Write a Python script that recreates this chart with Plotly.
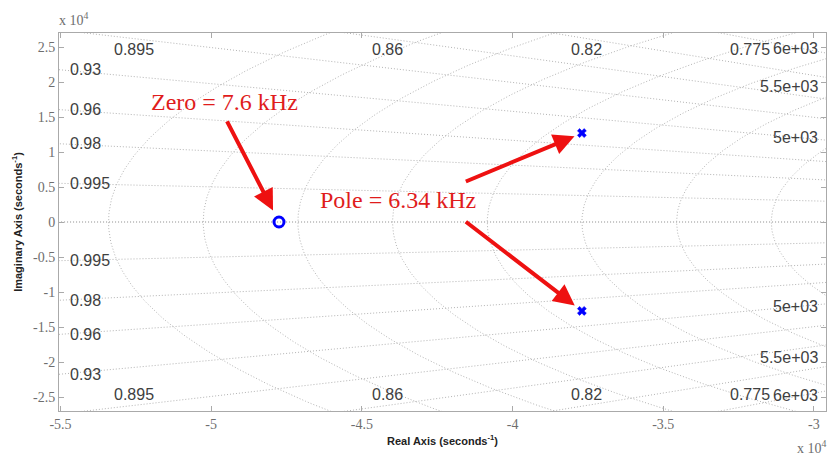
import numpy as np
import plotly.graph_objects as go

# Pole-zero data (rad/s)
zero_re = [-4.775e4]
zero_im = [0.0]
pole_re = [-3.77e4, -3.77e4]
pole_im = [1.27e4, -1.27e4]

# s-plane grid: damping ratios and natural frequencies (Hz)
zetas = [0.995, 0.98, 0.96, 0.93, 0.895, 0.86, 0.82, 0.775]
left_zetas = [0.995, 0.98, 0.96, 0.93]
edge_zetas = [0.895, 0.86, 0.82, 0.775]
freqs_hz = [5000, 5500, 6000, 6500, 7000, 7500, 8000, 8500]
labeled_freqs = [5000, 5500, 6000]

x_ticks = [-5.5, -5, -4.5, -4, -3.5, -3]
x_ticktext = ["-5.5", "-5", "-4.5", "-4", "-3.5", "-3"]
y_ticks = [2.5, 2, 1.5, 1, 0.5, 0, -0.5, -1, -1.5, -2, -2.5]
y_ticktext = ["2.5", "2", "1.5", "1", "0.5", "0", "-0.5", "-1", "-1.5", "-2", "-2.5"]
scale = 1e4

xmin, xmax = -5.505e4, -2.96e4
ymin, ymax = -2.7e4, 2.7e4

grid_color = "#b4b4b4"
grid_dash = "1px,2px"
label_color = "#404040"
tick_color = "#6e6e6e"
red = "#ee1111"

fig = go.Figure()

# constant-damping rays from the origin (including the real axis)
R = 1.2e5
gx, gy = [], []
for z in zetas + [1.0]:
    s = np.sqrt(1 - z * z)
    for sign in (1, -1):
        gx += [0, -R * z, None]
        gy += [0, sign * R * s, None]
fig.add_trace(go.Scatter(x=gx, y=gy, mode="lines", hoverinfo="skip",
                         line=dict(color=grid_color, width=1, dash=grid_dash),
                         showlegend=False))

# constant natural-frequency arcs
th = np.linspace(np.pi / 2, 3 * np.pi / 2, 400)
cx, cy = [], []
for f in freqs_hz:
    r = 2 * np.pi * f
    cx += list(r * np.cos(th)) + [None]
    cy += list(r * np.sin(th)) + [None]
fig.add_trace(go.Scatter(x=cx, y=cy, mode="lines", hoverinfo="skip",
                         line=dict(color=grid_color, width=1, dash=grid_dash),
                         showlegend=False))

# zeros and poles
fig.add_trace(go.Scatter(x=zero_re, y=zero_im, mode="markers", showlegend=False,
                         marker=dict(symbol="circle-open", size=10, color="#0000ff",
                                     line=dict(width=3, color="#0000ff"))))
fig.add_trace(go.Scatter(x=pole_re, y=pole_im, mode="markers", showlegend=False,
                         marker=dict(symbol="x", size=8, color="#0000ff",
                                     line=dict(width=0.5, color="#0000ff"))))

ann = []
lab_font = dict(family="Liberation Sans, Arial", size=16, color=label_color)

# damping labels on the left edge
for z in left_zetas:
    t = np.sqrt(1 - z * z) / z
    yl = -xmin * t
    for sign in (1, -1):
        ann.append(dict(x=xmin, y=sign * yl, xref="x", yref="y", text=str(z),
                        showarrow=False, xanchor="left", yanchor="middle",
                        xshift=9, font=lab_font))

# damping labels near the top and bottom edges
y_lab = 2.62e4
for z in edge_zetas:
    t = np.sqrt(1 - z * z) / z
    xl = -y_lab / t
    ann.append(dict(x=xl, y=y_lab, xref="x", yref="y", text=str(z),
                    showarrow=False, xanchor="center", yanchor="top",
                    font=lab_font))
    ann.append(dict(x=xl, y=-y_lab, xref="x", yref="y", text=str(z),
                    showarrow=False, xanchor="center", yanchor="bottom",
                    font=lab_font))

# frequency labels on the right edge
for f in labeled_freqs:
    r = 2 * np.pi * f
    yl = np.sqrt(r * r - xmax * xmax)
    txt = f"{f / 1000:g}e+03"
    ann.append(dict(x=xmax, y=yl, xref="x", yref="y", text=txt, showarrow=False,
                    xanchor="right", yanchor="bottom", xshift=-6, font=lab_font))
    ann.append(dict(x=xmax, y=-yl, xref="x", yref="y", text=txt, showarrow=False,
                    xanchor="right", yanchor="top", xshift=-6, font=lab_font))

# callouts
callout_font = dict(family="Liberation Serif, Times New Roman", size=24, color="#e01c1c")
ann.append(dict(x=-4.957e4, y=1.714e4, xref="x", yref="y", text="Zero = 7.6 kHz",
                showarrow=False, font=callout_font))
ann.append(dict(x=-4.381e4, y=0.314e4, xref="x", yref="y", text="Pole = 6.34 kHz",
                showarrow=False, font=callout_font))

arrow = dict(xref="x", yref="y", axref="x", ayref="y", text="", showarrow=True,
             arrowhead=2, arrowsize=1.05, arrowwidth=4, arrowcolor=red)
ann.append(dict(arrow, x=zero_re[0], y=zero_im[0], ax=-4.95e4, ay=1.46e4, standoff=13))
ann.append(dict(arrow, x=pole_re[0], y=pole_im[0], ax=-4.16e4, ay=0.57e4, standoff=8))
ann.append(dict(arrow, x=pole_re[1], y=pole_im[1], ax=-4.16e4, ay=0.02e4, standoff=9))

# exponent labels
exp_font = dict(family="Liberation Serif, Times New Roman", size=14, color=tick_color)
ann.append(dict(x=0, y=1, xref="paper", yref="paper", text="x 10<sup>4</sup>",
                showarrow=False, xanchor="left", yanchor="bottom", yshift=3, xshift=-2,
                font=exp_font))
ann.append(dict(x=1, y=0, xref="paper", yref="paper", text="x 10<sup>4</sup>",
                showarrow=False, xanchor="left", yanchor="top", yshift=-25, xshift=-31,
                font=exp_font))

axis_common = dict(showgrid=False, zeroline=False, showline=True, linecolor="#aaaaaa",
                   linewidth=1, mirror="ticks", ticks="inside", ticklen=5,
                   tickcolor="#aaaaaa",
                   tickfont=dict(family="Liberation Serif, Times New Roman", size=14,
                                 color=tick_color))

fig.update_layout(
    width=828, height=456,
    margin=dict(l=59, r=2, t=33, b=45),
    paper_bgcolor="white", plot_bgcolor="white",
    annotations=ann,
    xaxis=dict(axis_common, range=[xmin, xmax],
               tickvals=[v * scale for v in x_ticks], ticktext=x_ticktext,
               title=dict(text="<b>Real Axis (seconds<sup>-1</sup>)</b>",
                          font=dict(family="Liberation Sans, Arial", size=11, color="#222222"),
                          standoff=6)),
    yaxis=dict(axis_common, range=[ymin, ymax],
               tickvals=[v * scale for v in y_ticks], ticktext=y_ticktext,
               title=dict(text="<b>Imaginary Axis (seconds<sup>-1</sup>)</b>",
                          font=dict(family="Liberation Sans, Arial", size=11, color="#222222"),
                          standoff=8)),
)

fig.write_html("out.html")
